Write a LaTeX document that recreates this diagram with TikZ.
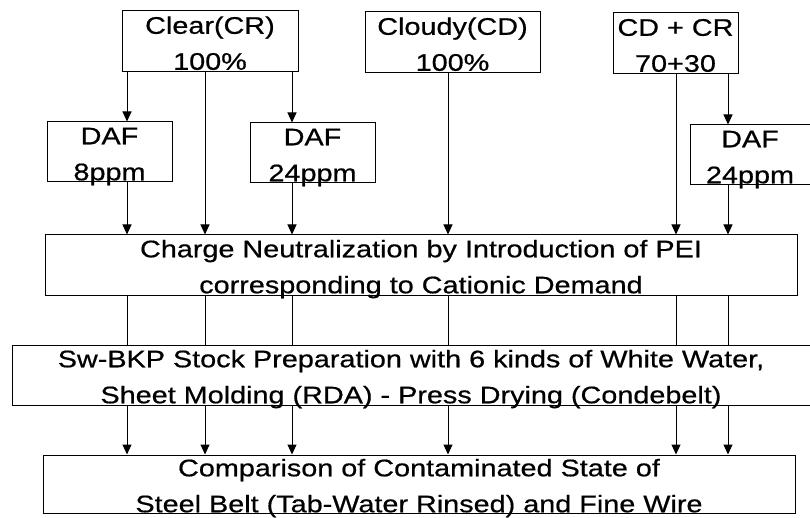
\documentclass[tikz,border=0pt]{standalone}
\usepackage{fontspec}
\setmainfont{Liberation Sans}[FakeStretch=1.2,FakeBold=0.6]
\usetikzlibrary{arrows.meta}
\newcommand{\twoline}[2]{\begin{tabular}{@{}c@{}}#1\\#2\end{tabular}}

\begin{document}
\begin{tikzpicture}[x=1pt,y=-1pt,
    every node/.style={font=\fontsize{24}{36}\selectfont},
    stage/.style={draw,line width=1pt,inner sep=0pt,text height=20pt,text depth=1.4pt},
    flow/.style={line width=1pt,-{Triangle[width=9pt,length=10pt]}},
    link/.style={line width=1pt}]
    \useasboundingbox (0,0) rectangle (810,518);

    \foreach \n/\c in {1/127,2/205,3/292,4/448,5/676,6/728} {
      \coordinate (k\n) at (\c,0);
    }

    \node[stage,minimum width=176pt,minimum height=61pt] (clr) at (210,41.5) {\twoline{Clear(CR)}{100\%}};
    \node[stage,minimum width=175pt,minimum height=61pt] (cld) at (452.5,42.5) {\twoline{Cloudy(CD)}{100\%}};
    \node[stage,minimum width=125pt,minimum height=61pt] (mix) at (675.5,43.5) {\twoline{CD + CR}{70+30}};

    \node[stage,minimum width=125pt,minimum height=60pt] (dafa) at (109.5,152) {\twoline{DAF}{8ppm}};
    \node[stage,minimum width=125pt,minimum height=60pt] (dafb) at (312.5,153) {\twoline{DAF}{24ppm}};
    \node[stage,minimum width=120pt,minimum height=60pt] (dafc) at (750,155) {\twoline{DAF}{24ppm}};

    \node[stage,minimum width=752pt,minimum height=60pt] (chg) at (421,265)
      {\twoline{Charge Neutralization by Introduction of PEI}{corresponding to Cationic Demand}};
    \node[stage,minimum width=798pt,minimum height=60pt] (prep) at (411,375)
      {\twoline{Sw-BKP Stock Preparation with 6 kinds of White Water,}{Sheet Molding (RDA) - Press Drying (Condebelt)}};
    \node[stage,minimum width=752pt,minimum height=58pt] (cmp) at (419,484)
      {\twoline{Comparison of Contaminated State of}{Steel Belt (Tab-Water Rinsed) and Fine Wire}};

    \draw[flow] (clr.south -| k1) -- (dafa.north -| k1);
    \draw[flow] (clr.south -| k2) -- (chg.north -| k2);
    \draw[flow] (clr.south -| k3) -- (dafb.north -| k3);
    \draw[flow] (dafa.south -| k1) -- (chg.north -| k1);
    \draw[flow] (dafb.south -| k3) -- (chg.north -| k3);
    \draw[flow] (cld.south -| k4) -- (chg.north -| k4);
    \draw[flow] (mix.south -| k5) -- (chg.north -| k5);
    \draw[flow] (mix.south -| k6) -- (dafc.north -| k6);
    \draw[flow] (dafc.south -| k6) -- (chg.north -| k6);

    \foreach \k in {k1,k2,k3,k4,k5,k6} {
      \draw[link] (chg.south -| \k) -- (prep.north -| \k);
      \draw[flow] (prep.south -| \k) -- (cmp.north -| \k);
    }
  \end{tikzpicture}
\end{document}
